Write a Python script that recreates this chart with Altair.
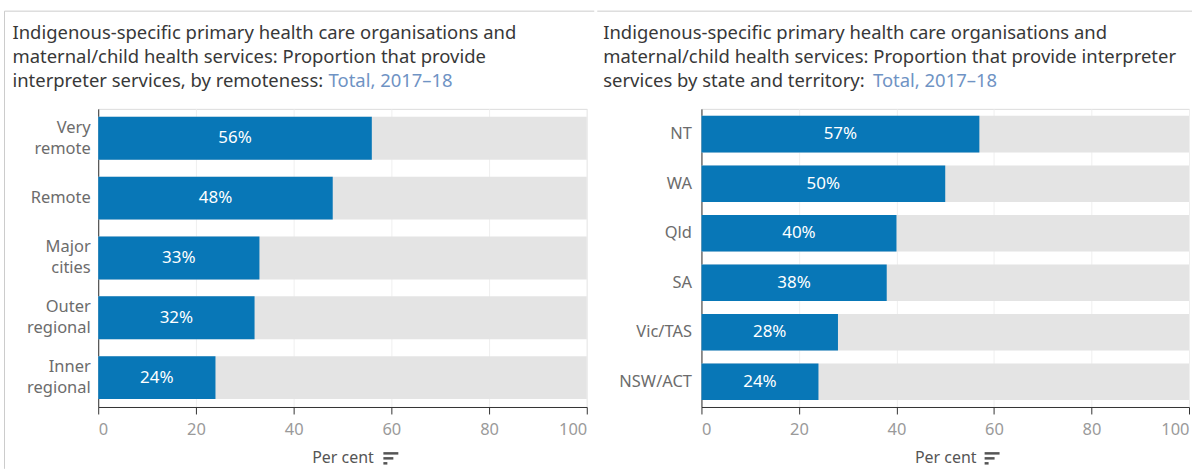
import altair as alt
import pandas as pd

# Proportion of services providing interpreters, 2017-18
remoteness = ["Very remote", "Remote", "Major cities", "Outer regional", "Inner regional"]
remoteness_pct = [56, 48, 33, 32, 24]

states = ["NT", "WA", "Qld", "SA", "Vic/TAS", "NSW/ACT"]
states_pct = [57, 50, 40, 38, 28, 24]

x_ticks = [0, 20, 40, 60, 80, 100]

left_title = [
    "Indigenous-specific primary health care organisations and",
    "maternal/child health services: Proportion that provide",
    "interpreter services, by remoteness:",
]
right_title = [
    "Indigenous-specific primary health care organisations and",
    "maternal/child health services: Proportion that provide interpreter",
    "services by state and territory:",
]
title_note = "Total, 2017–18"

FONT = "Noto Sans"
BLUE = "#0877b7"
TRACK = "#e4e4e4"
BORDER = "#cccccc"
TITLE_SIZE = 18.5
LABEL_SIZE = 16.5


def one_row():
    return alt.Chart(pd.DataFrame({"k": [0]}))


def panel(cats, vals, title_lines, width, height, pad_inner, pad_outer,
          label_pad, split_labels, title_x, note_x, rule_x1, rule_x2,
          icon_x, left_border):
    df = pd.DataFrame({"cat": cats, "pct": vals})

    axis_opts = dict(
        title=None, ticks=False, domain=True, domainColor="#333333",
        domainWidth=1, labelColor="#6c6c6c", labelFontSize=LABEL_SIZE,
        labelPadding=label_pad, labelLineHeight=21, labelFont=FONT,
        labelLimit=200,
    )
    if split_labels:
        # two-word categories wrap onto two lines, centred on the band
        axis_opts["labelExpr"] = "split(datum.label, ' ')"
        axis_opts["labelOffset"] = {
            "condition": {"test": "indexof(datum.value, ' ') < 0", "value": 0},
            "value": -10.5,
        }
    y_enc = alt.Y(
        "cat:N", sort=cats, axis=alt.Axis(**axis_opts),
        scale=alt.Scale(paddingInner=pad_inner, paddingOuter=pad_outer),
    )
    x_scale = alt.Scale(domain=[0, 100], nice=False)
    x_axis = alt.Axis(
        values=x_ticks, title="Per cent", titleFontSize=16,
        titleFontWeight="normal", titleColor="#555555", titleFont=FONT,
        titlePadding=11, labelColor="#9a9a9a", labelFontSize=LABEL_SIZE,
        labelFont=FONT, labelFlush=True, labelPadding=8,
        domainColor="#333333", tickColor="#333333", tickSize=7,
        grid=True, gridColor="#efefef", gridWidth=1,
    )

    base = alt.Chart(df)
    track = base.transform_calculate(full="100").mark_bar(
        color=TRACK
    ).encode(x=alt.X("full:Q", scale=x_scale, axis=x_axis), y=y_enc)
    bars = base.mark_bar(color=BLUE).encode(
        x=alt.X("pct:Q", scale=x_scale), y=y_enc
    )
    labels = base.transform_calculate(
        mid="datum.pct / 2", txt="format(datum.pct, 'd') + '%'"
    ).mark_text(
        color="white", fontSize=17, font=FONT, align="center", baseline="middle"
    ).encode(x=alt.X("mid:Q", scale=x_scale), y=y_enc, text="txt:N")

    heading = one_row().mark_text(
        text=title_lines, align="left", baseline="alphabetic",
        fontSize=TITLE_SIZE, font=FONT, color="#383838", lineHeight=24,
    ).encode(x=alt.value(title_x), y=alt.value(-70))
    note = one_row().mark_text(
        text=title_note, align="left", baseline="alphabetic",
        fontSize=TITLE_SIZE, font=FONT, color="#6f93c4",
    ).encode(x=alt.value(note_x), y=alt.value(-22))

    top_rule = one_row().mark_rule(color=BORDER, strokeWidth=1).encode(
        x=alt.value(rule_x1), x2=alt.value(rule_x2), y=alt.value(-98)
    )

    # small sort glyph beside the axis title
    icon = []
    for dy, length in [(345.5, 15), (350.5, 10), (355.5, 4)]:
        icon.append(
            one_row().mark_rule(color="#555555", strokeWidth=2.5).encode(
                x=alt.value(icon_x), x2=alt.value(icon_x + length),
                y=alt.value(dy),
            )
        )

    layers = [track, bars, labels, heading, note, top_rule] + icon
    if left_border is not None:
        layers.append(
            one_row().mark_rule(color=BORDER, strokeWidth=1).encode(
                x=alt.value(left_border), y=alt.value(-98), y2=alt.value(361)
            )
        )
    return alt.layer(*layers).properties(width=width, height=height)


left = panel(
    remoteness, remoteness_pct, left_title, 490, 299,
    pad_inner=0.283, pad_outer=0.133, label_pad=8, split_labels=True,
    title_x=-86, note_x=231, rule_x1=-94, rule_x2=497.5,
    icon_x=286, left_border=-94,
)
right = panel(
    states, states_pct, right_title, 489, 299,
    pad_inner=0.262, pad_outer=0.141, label_pad=10, split_labels=False,
    title_x=-98.5, note_x=172, rule_x1=-104.5, rule_x2=492,
    icon_x=284, left_border=None,
)

chart = alt.hconcat(left, right, spacing=0).properties(
    padding={"left": 3.5, "top": 9.5, "right": 0, "bottom": 0}
).configure_view(stroke=None).configure(font=FONT)

chart.save("out.html", embed_options={"renderer": "svg", "actions": False})
